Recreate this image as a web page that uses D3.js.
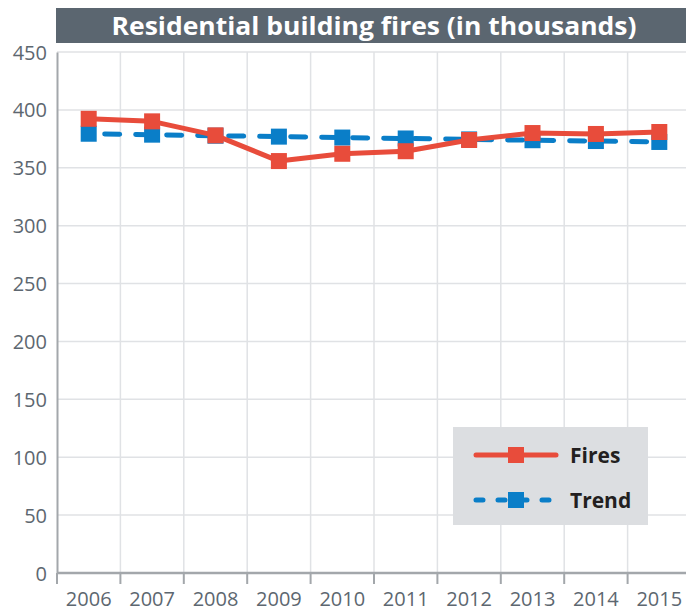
<!DOCTYPE html>
<html>
<head>
<meta charset="utf-8">
<script src="https://cdn.jsdelivr.net/npm/d3@7"></script>
<style>
  body { margin: 0; background: #fff; }
  svg { display: block; font-family: "Open Sans", sans-serif; }
  .yaxis text, .xaxis text { fill: #5d6770; font-size: 20px; font-family: "Open Sans", sans-serif; }
</style>
</head>
<body>
<div id="chart"></div>
<script>
// chart data
var years = ['2006', '2007', '2008', '2009', '2010', '2011', '2012', '2013', '2014', '2015'];
var fires = [392.3, 390.1, 378.0, 355.8, 362.1, 364.3, 374.0, 380.0, 379.2, 380.9];
var trend = [379.4, 378.6, 377.7, 376.9, 376.1, 375.3, 374.5, 373.8, 373.1, 372.3];
var yTicks = [0, 50, 100, 150, 200, 250, 300, 350, 400, 450];
var titleText = 'Residential building fires (in thousands)';
var seriesNames = ['Fires', 'Trend'];

(function () {
    var width = 686, height = 613;
    var plotLeft = 57, plotRight = 691, plotTop = 52, plotBottom = 573;

    var svg = d3.select('#chart')
        .append('svg')
        .attr('width', width)
        .attr('height', height);

    var x = d3.scaleBand()
        .domain(years)
        .range([plotLeft, plotRight]);

    var y = d3.scaleLinear()
        .domain([0, 450])
        .range([plotBottom, plotTop]);

    // title banner
    svg.append('rect')
        .attr('x', 56).attr('y', 8)
        .attr('width', width - 56).attr('height', 35)
        .attr('fill', '#5b6670');

    svg.append('text')
        .attr('x', 374).attr('y', 35)
        .attr('text-anchor', 'middle')
        .attr('fill', '#fff')
        .attr('font-size', 25)
        .attr('font-weight', 700)
        .attr('textLength', 525)
        .attr('lengthAdjust', 'spacingAndGlyphs')
        .text(titleText);

    // grid
    var grid = svg.append('g').attr('class', 'grid');
    grid.selectAll('line.h')
        .data(yTicks.filter(function (d) { return d > 0; }))
        .enter().append('line')
        .attr('class', 'h')
        .attr('x1', plotLeft).attr('x2', width)
        .attr('y1', function (d) { return y(d); })
        .attr('y2', function (d) { return y(d); })
        .attr('stroke', '#e0e2e5')
        .attr('stroke-width', 1.5);

    grid.selectAll('line.v')
        .data(years.slice(1))
        .enter().append('line')
        .attr('class', 'v')
        .attr('x1', function (d) { return x(d); })
        .attr('x2', function (d) { return x(d); })
        .attr('y1', plotTop).attr('y2', plotBottom)
        .attr('stroke', '#e0e2e5')
        .attr('stroke-width', 1.5);

    // y axis
    var yAxis = svg.append('g')
        .attr('class', 'yaxis')
        .attr('transform', 'translate(' + plotLeft + ',0)')
        .call(d3.axisLeft(y).tickValues(yTicks).tickSize(0).tickPadding(10));
    yAxis.select('.domain').attr('stroke', '#a3a7ab').attr('stroke-width', 2);
    yAxis.selectAll('text').attr('dy', '0.35em');

    // x axis: labels centred in bands, tick marks on band edges
    var xAxis = svg.append('g')
        .attr('class', 'xaxis')
        .attr('transform', 'translate(0,' + plotBottom + ')')
        .call(d3.axisBottom(x).tickSize(0).tickPadding(19));
    xAxis.select('.domain').remove();
    xAxis.selectAll('text').attr('dy', '0.71em');

    svg.append('line')
        .attr('x1', plotLeft).attr('x2', width)
        .attr('y1', plotBottom).attr('y2', plotBottom)
        .attr('stroke', '#a3a7ab').attr('stroke-width', 2.5);

    svg.selectAll('line.xtick')
        .data(years)
        .enter().append('line')
        .attr('class', 'xtick')
        .attr('x1', function (d) { return x(d); })
        .attr('x2', function (d) { return x(d); })
        .attr('y1', plotBottom).attr('y2', plotBottom + 11)
        .attr('stroke', '#a3a7ab').attr('stroke-width', 2);

    var cx = function (d, i) { return x(years[i]) + x.bandwidth() / 2; };
    var line = d3.line()
        .x(cx)
        .y(function (d) { return y(d); });

    var blue = '#0a7ec8', red = '#e84c3b', msize = 16;

    // trend (drawn first, under the fires)
    svg.append('path')
        .datum(trend)
        .attr('d', line)
        .attr('fill', 'none')
        .attr('stroke', blue)
        .attr('stroke-width', 5)
        .attr('stroke-linecap', 'round')
        .attr('stroke-dasharray', '15,16')
        .attr('stroke-dashoffset', -16);

    svg.selectAll('rect.trend')
        .data(trend)
        .enter().append('rect')
        .attr('class', 'trend')
        .attr('x', function (d, i) { return cx(d, i) - msize / 2; })
        .attr('y', function (d) { return y(d) - msize / 2; })
        .attr('width', msize).attr('height', msize)
        .attr('fill', blue);

    svg.append('path')
        .datum(fires)
        .attr('d', line)
        .attr('fill', 'none')
        .attr('stroke', red)
        .attr('stroke-width', 5)
        .attr('stroke-linejoin', 'round');

    svg.selectAll('rect.fires')
        .data(fires)
        .enter().append('rect')
        .attr('class', 'fires')
        .attr('x', function (d, i) { return cx(d, i) - msize / 2; })
        .attr('y', function (d) { return y(d) - msize / 2; })
        .attr('width', msize).attr('height', msize)
        .attr('fill', red);

    // legend
    var legend = svg.append('g');
    legend.append('rect')
        .attr('x', 453).attr('y', 427)
        .attr('width', 195).attr('height', 98)
        .attr('fill', '#dcdee1');

    var rows = [
        {name: seriesNames[0], color: red, dash: null, y: 455},
        {name: seriesNames[1], color: blue, dash: '7,15', y: 500}
    ];
    rows.forEach(function (r) {
        legend.append('line')
            .attr('x1', 476).attr('x2', 556)
            .attr('y1', r.y).attr('y2', r.y)
            .attr('stroke', r.color)
            .attr('stroke-width', 5)
            .attr('stroke-linecap', 'round')
            .attr('stroke-dasharray', r.dash);
        legend.append('rect')
            .attr('x', 516 - msize / 2).attr('y', r.y - msize / 2)
            .attr('width', msize).attr('height', msize)
            .attr('fill', r.color);
        legend.append('text')
            .attr('x', 570).attr('y', r.y + 7.5)
            .attr('font-size', 21)
            .attr('font-weight', 700)
            .attr('fill', '#231f20')
            .text(r.name);
    });
})();
</script>
</body>
</html>
